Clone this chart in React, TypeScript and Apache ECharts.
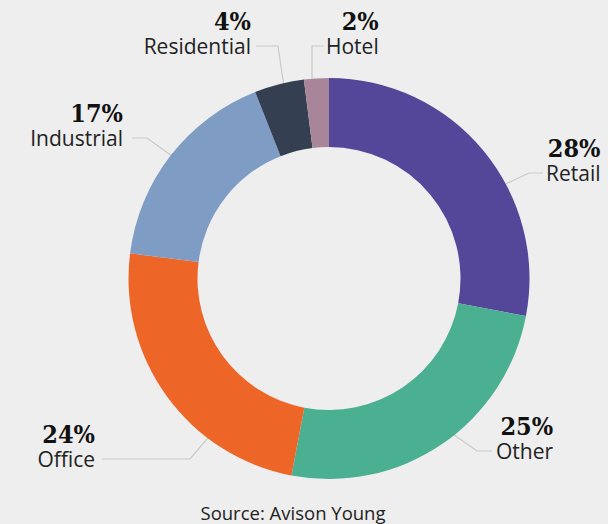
import React, { useEffect, useRef } from "react";
import * as echarts from "echarts";

const categories = ["Retail", "Other", "Office", "Industrial", "Residential", "Hotel"];
const shares = [28, 25, 24, 17, 4, 2];
const sliceColors = ["#54479a", "#4baf92", "#ed6628", "#7f9cc4", "#353f52", "#a88598"];
const sourceNote = "Source: Avison Young";

// label line geometry (start in slice, elbow, end) and text anchor per category
const labelLines: number[][][] = [
  [[497, 188], [529, 173], [543, 173]],
  [[440, 425], [477, 451], [492, 451]],
  [[219, 425], [190, 459], [102, 459]],
  [[186, 166], [147, 138], [132, 138]],
  [[287, 107], [278, 46], [256, 46]],
  [[312, 88], [312, 46], [324, 46]],
];
const labelTextX = [546, 496, 95, 123, 251, 326];
const labelAlign = ["left", "left", "right", "right", "right", "left"];

export default function App() {
  const ref = useRef<HTMLDivElement>(null);
  useEffect(() => {
    document.body.style.margin = "0";
    const chart = echarts.init(ref.current!, null, { renderer: "svg" });
    chart.setOption({
      animation: false,
      backgroundColor: "#eeeeee",
      graphic: [
        {
          type: "text",
          x: 293,
          y: 512,
          style: {
            text: sourceNote,
            fill: "#222",
            font: "18.5px 'Open Sans'",
            textAlign: "center",
            textVerticalAlign: "middle",
          },
        },
      ],
      series: [
        {
          type: "pie",
          center: [329, 278.5],
          radius: [131.5, 200.5],
          startAngle: 90,
          clockwise: true,
          avoidLabelOverlap: false,
          silent: true,
          data: categories.map((name, i) => ({
            name,
            value: shares[i],
            itemStyle: { color: sliceColors[i] },
          })),
          label: {
            show: true,
            position: "outside",
            formatter: (p: any) => `{p|${p.value}%}\n{n|${p.name}}`,
            rich: {
              p: {
                fontFamily: "'DejaVu Serif Condensed', 'DejaVu Serif'",
                fontWeight: "bold",
                fontSize: 25,
                lineHeight: 27,
                color: "#111",
                align: "right",
              },
              n: {
                fontFamily: "'Open Sans'",
                fontSize: 21,
                lineHeight: 22,
                color: "#222",
                align: "right",
              },
            },
          },
          labelLine: {
            show: true,
            smooth: false,
            lineStyle: { color: "#c9c9c6", width: 1.2 },
          },
          labelLayout: (params: any) => {
            const i = params.dataIndex;
            const pts = labelLines[i];
            return {
              x: labelTextX[i],
              y: pts[2][1] + 11,
              align: labelAlign[i],
              verticalAlign: "bottom",
              labelLinePoints: pts,
            };
          },
        },
      ],
    });
    return () => chart.dispose();
  }, []);
  return <div ref={ref} style={{ width: 608, height: 524 }} />;
}
